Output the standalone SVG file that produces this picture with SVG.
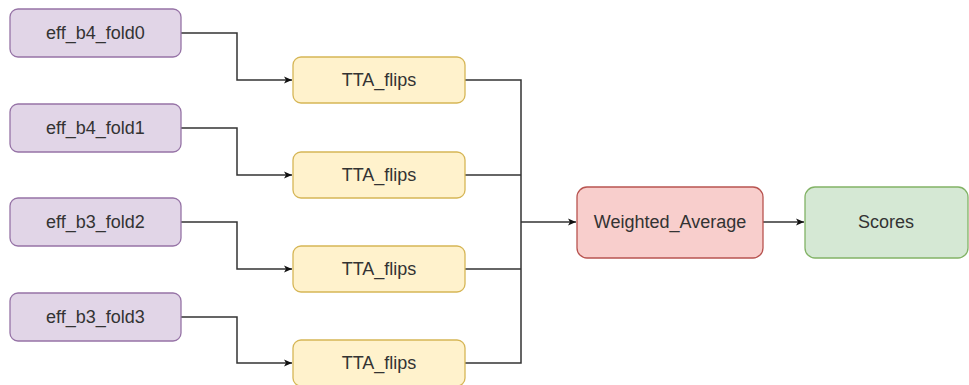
<svg xmlns="http://www.w3.org/2000/svg" width="969" height="385" viewBox="0 0 969 385">
<style>
.box{stroke-width:1.3}
.p{fill:#e1d5e7;stroke:#9673a6}
.y{fill:#fff2cc;stroke:#d6b656}
.r{fill:#f8cecc;stroke:#b85450}
.g{fill:#d5e8d4;stroke:#82b366}
text{font-family:"Liberation Sans",Arial,sans-serif;font-size:18px;fill:#333;text-anchor:middle;dominant-baseline:central}
.c{fill:none;stroke:#333;stroke-width:1.5}
</style>
<defs>
<marker id="a" markerWidth="10" markerHeight="10" refX="9" refY="5" orient="auto" markerUnits="userSpaceOnUse">
<path d="M1,1.5 L9,5 L1,8.5 L3,5 Z" fill="#111"/>
</marker>
</defs>
<rect width="969" height="385" fill="#fff"/>
<g id="connectors">
<path class="c" d="M181,33 H237 V80 H292" marker-end="url(#a)"/>
<path class="c" d="M181,128 H237 V175 H292" marker-end="url(#a)"/>
<path class="c" d="M181,222 H237 V269 H292" marker-end="url(#a)"/>
<path class="c" d="M181,317 H237 V363 H292" marker-end="url(#a)"/>
<path class="c" d="M465,80 H521 V363 H465"/>
<path class="c" d="M465,175 H521"/>
<path class="c" d="M465,269 H521"/>
<path class="c" d="M521,222 H576" marker-end="url(#a)"/>
<path class="c" d="M763,222 H804" marker-end="url(#a)"/>
</g>
<g id="n0"><rect class="box p" x="10" y="9" width="171" height="48" rx="8"/><text x="95.5" y="33">eff_b4_fold0</text></g>
<g id="n1"><rect class="box p" x="10" y="104" width="171" height="48" rx="8"/><text x="95.5" y="128">eff_b4_fold1</text></g>
<g id="n2"><rect class="box p" x="10" y="198" width="171" height="48" rx="8"/><text x="95.5" y="222">eff_b3_fold2</text></g>
<g id="n3"><rect class="box p" x="10" y="293" width="171" height="48" rx="8"/><text x="95.5" y="317">eff_b3_fold3</text></g>
<g id="t0"><rect class="box y" x="293" y="57" width="172" height="46" rx="8"/><text x="379" y="80">TTA_flips</text></g>
<g id="t1"><rect class="box y" x="293" y="152" width="172" height="46" rx="8"/><text x="379" y="175">TTA_flips</text></g>
<g id="t2"><rect class="box y" x="293" y="246" width="172" height="46" rx="8"/><text x="379" y="269">TTA_flips</text></g>
<g id="t3"><rect class="box y" x="293" y="340" width="172" height="46" rx="8"/><text x="379" y="363">TTA_flips</text></g>
<g id="wa"><rect class="box r" x="577" y="187" width="186" height="71" rx="10"/><text x="670" y="222">Weighted_Average</text></g>
<g id="sc"><rect class="box g" x="805" y="187" width="163" height="71" rx="10"/><text x="886" y="222">Scores</text></g>
</svg>
